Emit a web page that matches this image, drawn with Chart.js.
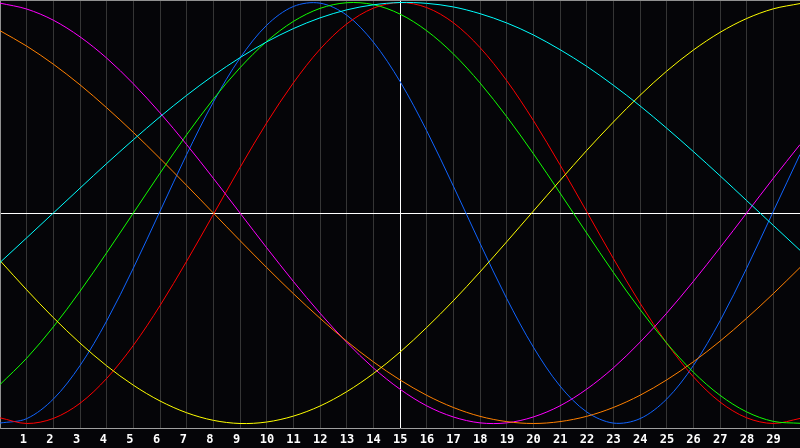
<!DOCTYPE html>
<html>
<head>
<meta charset="utf-8">
<title>Biorhythm</title>
<script src="https://cdn.jsdelivr.net/npm/chart.js@4"></script>
<style>
  html, body { margin: 0; padding: 0; background: #050508; }
  #wrap { width: 800px; height: 448px; }
</style>
</head>
<body>
<div id="wrap"><canvas id="bioChart" width="800" height="448"></canvas></div>
<script>
// days shown along the bottom (0 and 30 are the chart edges, no label)
const days = [0, 1, 2, 3, 4, 5, 6, 7, 8, 9, 10, 11, 12, 13, 14, 15, 16, 17, 18, 19, 20, 21, 22, 23, 24, 25, 26, 27, 28, 29, 30];

// curve values, -100 .. 100, one per day
const physical     = [-99.8, -97.7, -88.4, -72.5, -51.3, -26.2, 0.8, 27.8, 52.7, 73.6, 89.2, 98.1, 99.7, 94.0, 81.2, 62.5, 39.1, 12.8, -14.4, -40.6, -63.7, -82.2, -94.5, -99.8, -97.7, -88.4, -72.5, -51.3, -26.2, 0.8, 27.8];
const emotional    = [-97.3, -100.0, -97.6, -90.4, -78.6, -62.9, -44.0, -22.9, -0.7, 21.6, 42.8, 61.8, 77.8, 89.8, 97.3, 100.0, 97.6, 90.4, 78.6, 62.9, 44.0, 22.9, 0.7, -21.6, -42.8, -61.8, -77.8, -89.8, -97.3, -100.0, -97.6];
const intellectual = [-81.5, -69.0, -54.1, -37.2, -18.9, 0.0, 18.9, 37.2, 54.1, 69.0, 81.5, 91.0, 97.2, 99.9, 99.0, 94.5, 86.6, 75.6, 61.8, 45.8, 28.2, 9.5, -9.5, -28.2, -45.8, -61.8, -75.6, -86.6, -94.5, -99.0, -99.9];
const spiritual    = [-23.5, -11.8, 0.0, 11.8, 23.5, 34.8, 45.7, 55.9, 65.3, 73.8, 81.3, 87.6, 92.7, 96.5, 98.9, 100.0, 99.6, 97.9, 94.7, 90.3, 84.6, 77.6, 69.7, 60.7, 50.9, 40.3, 29.2, 17.7, 5.9, -5.9, -17.7];
const intuitive    = [99.7, 96.9, 91.6, 83.7, 73.6, 61.4, 47.6, 32.5, 16.5, 0.0, -16.5, -32.5, -47.6, -61.4, -73.6, -83.7, -91.6, -96.9, -99.7, -99.7, -96.9, -91.6, -83.7, -73.6, -61.4, -47.6, -32.5, -16.5, 0.0, 16.5, 32.5];
const awareness    = [86.6, 79.3, 70.7, 60.9, 50.0, 38.3, 25.9, 13.1, 0.0, -13.1, -25.9, -38.3, -50.0, -60.9, -70.7, -79.3, -86.6, -92.4, -96.6, -99.1, -100.0, -99.1, -96.6, -92.4, -86.6, -79.3, -70.7, -60.9, -50.0, -38.3, -25.9];
const aesthetic    = [-22.6, -36.5, -49.7, -61.8, -72.6, -81.8, -89.3, -94.9, -98.5, -100.0, -99.3, -96.5, -91.7, -84.9, -76.3, -66.1, -54.4, -41.7, -28.0, -13.7, 0.9, 15.4, 29.7, 43.2, 55.9, 67.4, 77.4, 85.8, 92.4, 97.0, 99.5];

const series = [
    { label: 'Spiritual', data: spiritual, color: '#00ffff' },
    { label: 'Aesthetic', data: aesthetic, color: '#ffff00' },
    { label: 'Awareness', data: awareness, color: '#ff8000' },
    { label: 'Intuitive', data: intuitive, color: '#ff00ff' },
    { label: 'Intellectual', data: intellectual, color: '#10ff00' },
    { label: 'Emotional', data: emotional, color: '#ff0000' },
    { label: 'Physical', data: physical, color: '#1064ff' }
];

const todayIndex = 15;

// paint the whole canvas black
const background = {
    id: 'background',
    beforeDraw(chart) {
        const ctx = chart.ctx;
        ctx.save();
        ctx.fillStyle = '#050508';
        ctx.fillRect(0, 0, chart.width, chart.height);
        ctx.restore();
    }
};

const ctx = document.getElementById('bioChart').getContext('2d');
new Chart(ctx, {
    type: 'line',
    data: {
        labels: days,
        datasets: series.map(s => ({
            label: s.label,
            data: s.data,
            borderColor: s.color,
            borderWidth: 1,
            pointRadius: 0,
            fill: false,
            tension: 0.33
        }))
    },
    options: {
        responsive: false,
        animation: false,
        devicePixelRatio: 1,
        layout: { padding: 0 },
        plugins: {
            legend: { display: false },
            tooltip: { enabled: false }
        },
        scales: {
            x: {
                type: 'category',
                offset: false,
                grid: {
                    drawTicks: false,
                    color: c => {
                        if (c.index === todayIndex) return '#ffffff';
                        if (c.index === 0) return '#909090';
                        if (c.index === days.length - 1) return 'rgba(0,0,0,0)';
                        return '#353535';
                    }
                },
                border: { display: true, color: '#a0a0a0' },
                ticks: {
                    autoSkip: false,
                    maxRotation: 0,
                    align: 'start',
                    labelOffset: -7,
                    padding: 5,
                    color: '#ffffff',
                    font: { family: '"DejaVu Sans Mono"', size: 12, weight: 'bold' },
                    callback: function(value, index) {
                        const d = days[index];
                        return (d === 0 || d === 30) ? '' : String(d);
                    }
                },
                afterFit: s => {
                    s.height = 20;
                    s.paddingLeft = 0;
                    s.paddingRight = 0;
                }
            },
            y: {
                min: -102.14,
                max: 101.19,
                grid: {
                    drawTicks: false,
                    color: c => c.tick.value === 0 ? '#ffffff' : '#909090'
                },
                border: { display: true, color: '#909090' },
                ticks: { display: false },
                afterBuildTicks: s => { s.ticks = [{ value: 0 }, { value: 101.19 }]; },
                afterFit: s => {
                    s.width = 0;
                    s.paddingTop = 0;
                    s.paddingBottom = 0;
                }
            }
        }
    },
    plugins: [background]
});
</script>
</body>
</html>
